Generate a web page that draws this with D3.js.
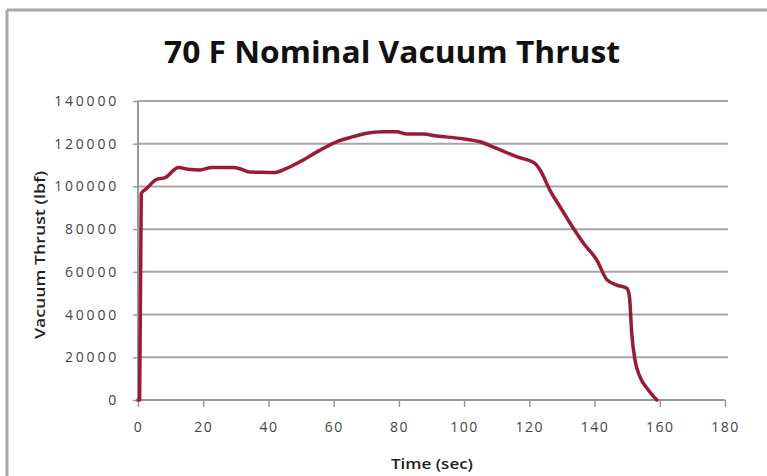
<!DOCTYPE html>
<html><head><meta charset="utf-8">
<script src="https://cdn.jsdelivr.net/npm/d3@7"></script>
<style>html,body{margin:0;padding:0;background:#fff;}svg{display:block;}</style>
</head><body>
<svg id="c" width="767" height="476"></svg>
<script>
const title = "70 F Nominal Vacuum Thrust";
const xLabel = "Time (sec)";
const yLabel = "Vacuum Thrust (lbf)";
const xTicks = [0,20,40,60,80,100,120,140,160,180];
const yTicks = [0,20000,40000,60000,80000,100000,120000,140000];
const time = [0,0.5,1,2.7,5.7,8.3,12.4,15.4,19,22.6,29.2,31.8,34.3,38.4,41.5,45.6,50.7,55.8,60.9,66,70.1,75.2,79.3,82.4,87.5,91.6,98.7,104.9,110,116.1,121.7,123.3,126.3,129.4,133.5,136.6,140.7,143.7,146.8,149.9,150.7,151.4,152.4,153.9,156.5,159.1];
const thrust = [0,0,96800,99100,103300,104100,108900,108000,107700,108900,108900,108000,106750,106600,106500,108500,112400,117000,120900,123300,124900,125600,125600,124500,124500,123600,122500,120900,117800,113900,110800,107700,98300,90500,80400,73400,65500,56500,53800,52300,48400,31200,18700,10900,4700,0];

const svg = d3.select("#c");
const L = 138, R = 725, T = 101, B = 400;
const x = d3.scaleLinear().domain([0,180]).range([L,R]);
const y = d3.scaleLinear().domain([0,140000]).range([B,T]);

// frame
svg.append("line").attr("x1",7).attr("x2",767).attr("y1",10).attr("y2",10).attr("stroke","#a8a8a8").attr("stroke-width",3);
svg.append("line").attr("x1",7).attr("x2",7).attr("y1",10).attr("y2",476).attr("stroke","#a8a8a8").attr("stroke-width",3);

// gridlines
svg.append("g").selectAll("line").data(yTicks.filter(d=>d>0)).join("line")
  .attr("x1",L).attr("x2",728).attr("y1",d=>y(d)).attr("y2",d=>y(d))
  .attr("stroke","#a6a6a6").attr("stroke-width",2);

// axes
const xa = svg.append("g").attr("transform",`translate(0,${B})`)
  .call(d3.axisBottom(x).tickValues(xTicks).tickSize(7).tickPadding(15).tickFormat(d3.format("d")));
const ya = svg.append("g").attr("transform",`translate(${L},0)`)
  .call(d3.axisLeft(y).tickValues(yTicks).tickSize(5).tickPadding(14).tickFormat(d3.format("d")));
[xa,ya].forEach(a=>{
  a.select(".domain").attr("stroke","#999").attr("stroke-width",2);
  a.selectAll(".tick line").attr("stroke","#999").attr("stroke-width",1.5);
  a.selectAll(".tick text").attr("fill","#444").style("font-family","Open Sans, sans-serif").style("font-size","14px");
});
xa.selectAll(".tick text").style("letter-spacing","1.5px");
ya.selectAll(".tick text").style("letter-spacing","2.8px");
ya.select(".domain").attr("d",`M-0,${B}V${T}`);
xa.select(".domain").attr("d",`M${L},0H${R}`);

// line
const pts = time.map((t,i)=>[t,thrust[i]]);
svg.append("path").datum(pts)
  .attr("fill","none").attr("stroke","#981d34").attr("stroke-width",3.5)
  .attr("stroke-linejoin","round").attr("stroke-linecap","round")
  .attr("d",d3.line().x(d=>x(d[0])).y(d=>y(d[1])).curve(d3.curveMonotoneX));

// title
svg.append("text").attr("x",392).attr("y",63).attr("text-anchor","middle")
  .attr("textLength",456).attr("lengthAdjust","spacingAndGlyphs")
  .style("font-family","Open Sans, sans-serif").style("font-weight","bold").style("font-size","30px")
  .attr("fill","#111").text(title);
svg.append("text").attr("x",432).attr("y",469).attr("text-anchor","middle")
  .attr("textLength",82).attr("lengthAdjust","spacingAndGlyphs")
  .style("font-family","Open Sans, sans-serif").style("font-weight","600").style("font-size","14.5px")
  .attr("fill","#222").text(xLabel);
svg.append("text").attr("transform","translate(45,255) rotate(-90)").attr("text-anchor","middle")
  .attr("textLength",168).attr("lengthAdjust","spacingAndGlyphs")
  .style("font-family","Open Sans, sans-serif").style("font-weight","600").style("font-size","14px")
  .attr("fill","#222").text(yLabel);
</script>
</body></html>
